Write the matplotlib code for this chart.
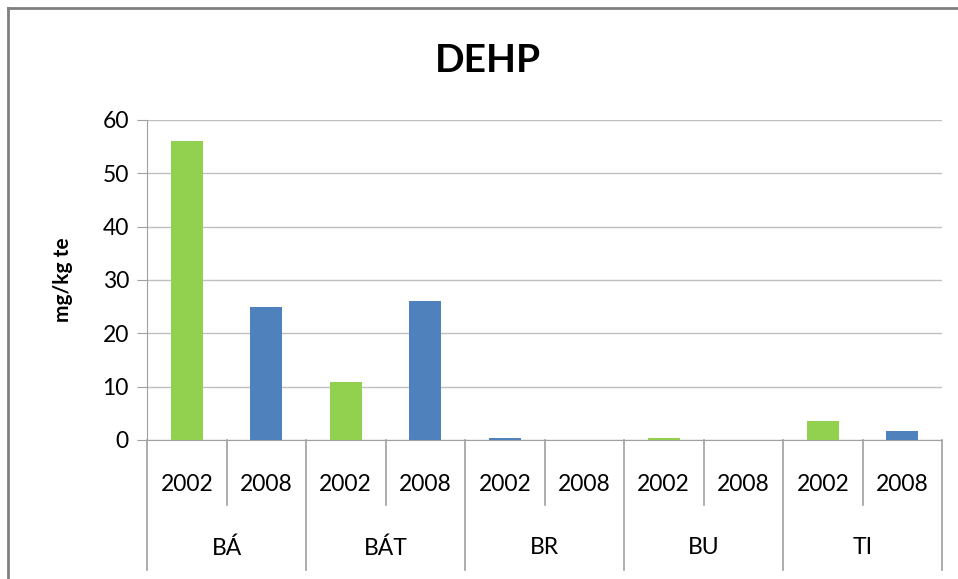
import matplotlib.pyplot as plt
import numpy as np

# Data
groups = ['BÁ', 'BÁT', 'BR', 'BU', 'TI']
years = ['2002', '2008']
values = [56, 25, 10.8, 26, 0.3, 0, 0.3, 0, 3.6, 1.7]
bar_colors = ['#92d050', '#4f81bd', '#92d050', '#4f81bd', '#4f81bd',
              '#4f81bd', '#92d050', '#92d050', '#92d050', '#4f81bd']

plt.rcParams['font.family'] = ['Lato', 'DejaVu Sans']

fig = plt.figure(figsize=(9.58, 5.79), dpi=100)
ax = fig.add_axes([147 / 958, 139 / 579, 795 / 958, 320 / 579])

x = np.arange(len(values))
ax.bar(x, values, width=0.4, color=bar_colors, zorder=3)

ax.set_xlim(-0.5, len(values) - 0.5)
ax.set_ylim(0, 60)
ax.set_yticks(range(0, 61, 10))
ax.tick_params(axis='y', labelsize=16.5, length=7, color='#a0a0a0', pad=6)
ax.set_xticks([])
ax.grid(axis='y', color='#c0c0c0', linewidth=1, zorder=0)

for side in ['top', 'right']:
    ax.spines[side].set_visible(False)
ax.spines['left'].set_color('#a0a0a0')
ax.spines['bottom'].set_color('#a0a0a0')

# two-level category axis
trans = ax.get_xaxis_transform()
ax.plot([-0.5, -0.5], [0, -0.406], color='#a0a0a0', lw=1.2,
        transform=trans, clip_on=False)
for i in range(len(values)):
    ax.text(i, -0.14, years[i % 2], transform=trans, ha='center', va='center',
            fontsize=16.5)
    edge = i + 0.5
    bottom = -0.406 if i % 2 == 1 else -0.203
    ax.plot([edge, edge], [0, bottom], color='#a0a0a0', lw=1.2,
            transform=trans, clip_on=False)
for j, g in enumerate(groups):
    ax.text(2 * j + 0.5, -0.3375, g, transform=trans, ha='center',
            va='center', fontsize=16.5)

fig.text(63 / 958, 1 - 280 / 579, 'mg/kg te', rotation=90, ha='center',
         va='center', fontsize=15, fontweight='bold')
fig.text(488 / 958, 1 - 60 / 579, 'DEHP', ha='center', va='center',
         fontsize=28, fontweight='bold')

# chart border
fig.add_artist(plt.Line2D([8 / 958, 1], [1 - 8 / 579, 1 - 8 / 579],
                          color='#808080', lw=2, transform=fig.transFigure))
fig.add_artist(plt.Line2D([8 / 958, 8 / 958], [1 - 8 / 579, 0],
                          color='#808080', lw=2, transform=fig.transFigure))

fig.savefig('out.png', dpi=100)
